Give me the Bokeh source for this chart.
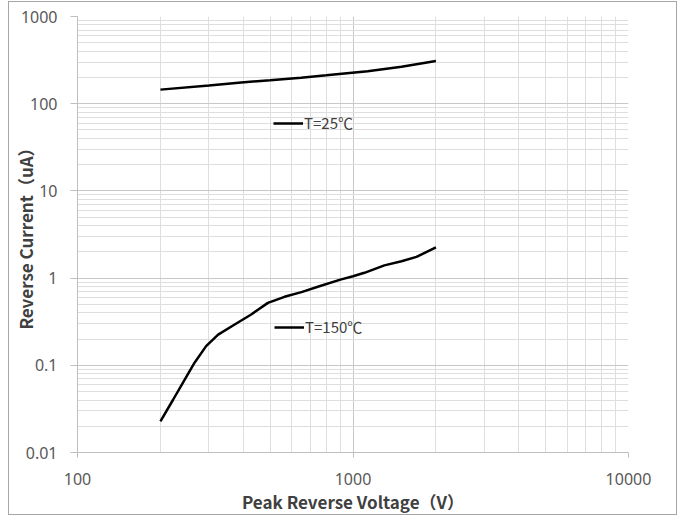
from bokeh.plotting import figure
from bokeh.models import FixedTicker, Legend, LegendItem
from bokeh.embed import file_html
from bokeh.resources import INLINE

# ---- data ----
volt_25 = [200, 300, 393, 500, 648, 800, 1130, 1500, 2000]
curr_25 = [145, 162, 175, 186, 199, 212, 236, 265, 308]

volt_150 = [200, 222, 245, 266, 293, 324, 372, 427, 491, 564, 650,
            750, 900, 1000, 1100, 1300, 1500, 1700, 2000]
curr_150 = [0.0227, 0.040, 0.0687, 0.107, 0.166, 0.225, 0.294, 0.383, 0.52, 0.61, 0.69,
            0.80, 0.96, 1.05, 1.15, 1.40, 1.56, 1.75, 2.25]

x_ticks = [100, 1000, 10000]
x_tick_labels = ["100", "1000", "10000"]
y_ticks = [0.01, 0.1, 1, 10, 100, 1000]
y_tick_labels = ["0.01", "0.1", "1", "10", "100", "1000"]

series_names = ["T=25℃", "T=150℃"]
x_title = "Peak Reverse Voltage（V）"
y_title = "Reverse Current（uA）"

W, H = 669, 514
p = figure(width=W, height=H, x_axis_type="log", y_axis_type="log",
           x_range=(100, 10000), y_range=(0.01, 1000),
           output_backend="svg", toolbar_location=None,
           min_border_left=64, min_border_right=50, min_border_top=14, min_border_bottom=62,
           background_fill_color="white", border_fill_color="white",
           styles={"border": "1px solid #a6a6a6", "margin-left": "8px", "margin-top": "1px"})
p.outline_line_color = None


def minors(lo, hi):
    out = []
    for k in range(lo, hi):
        for m in range(2, 10):
            out.append(m * 10 ** k)
    return out


p.xaxis.ticker = FixedTicker(ticks=x_ticks, minor_ticks=minors(2, 4))
p.yaxis.ticker = FixedTicker(ticks=y_ticks, minor_ticks=minors(-2, 3))
p.xaxis.major_label_overrides = {t: s for t, s in zip(x_ticks, x_tick_labels)}
p.yaxis.major_label_overrides = {t: s for t, s in zip(y_ticks, y_tick_labels)}

for ax in (p.xaxis, p.yaxis):
    ax.axis_line_color = "#bfbfbf"
    ax.major_tick_line_color = "#bfbfbf"
    ax.minor_tick_line_color = None
    ax.major_tick_in = 0
    ax.major_label_text_font = "Noto Sans"
    ax.major_label_text_font_size = "16px"
    ax.major_label_text_color = "#595959"
    ax.axis_label_text_font = "Noto Sans CJK SC"
    ax.axis_label_text_font_style = "bold"
    ax.axis_label_text_font_size = "17px"
    ax.axis_label_text_color = "#404040"
p.xaxis.major_tick_out = 5
p.yaxis.major_tick_out = 7
p.xaxis.major_label_standoff = 15
p.yaxis.major_label_standoff = 13
p.xaxis.axis_label = x_title
p.yaxis.axis_label = y_title
p.xaxis.axis_label_standoff = 1
p.yaxis.axis_label_standoff = -20

for g in (p.xgrid, p.ygrid):
    g.grid_line_color = "#c8c8c8"
    g.minor_grid_line_color = "#dedede"
    g.grid_line_width = 1

r25 = p.line(volt_25, curr_25, line_color="black", line_width=2.5)
r150 = p.line(volt_150, curr_150, line_color="black", line_width=2.5)

for r, name, loc in ((r25, series_names[0], (196, 319)), (r150, series_names[1], (197, 115))):
    lg = Legend(items=[LegendItem(label=name, renderers=[r])], location=loc,
                background_fill_alpha=0, border_line_color=None, padding=0, margin=0,
                glyph_width=30, label_standoff=1, label_text_font="Noto Sans CJK SC",
                label_text_font_size="15px", label_text_color="#404040")
    p.add_layout(lg)

open("out.html", "w").write(file_html(p, INLINE))
